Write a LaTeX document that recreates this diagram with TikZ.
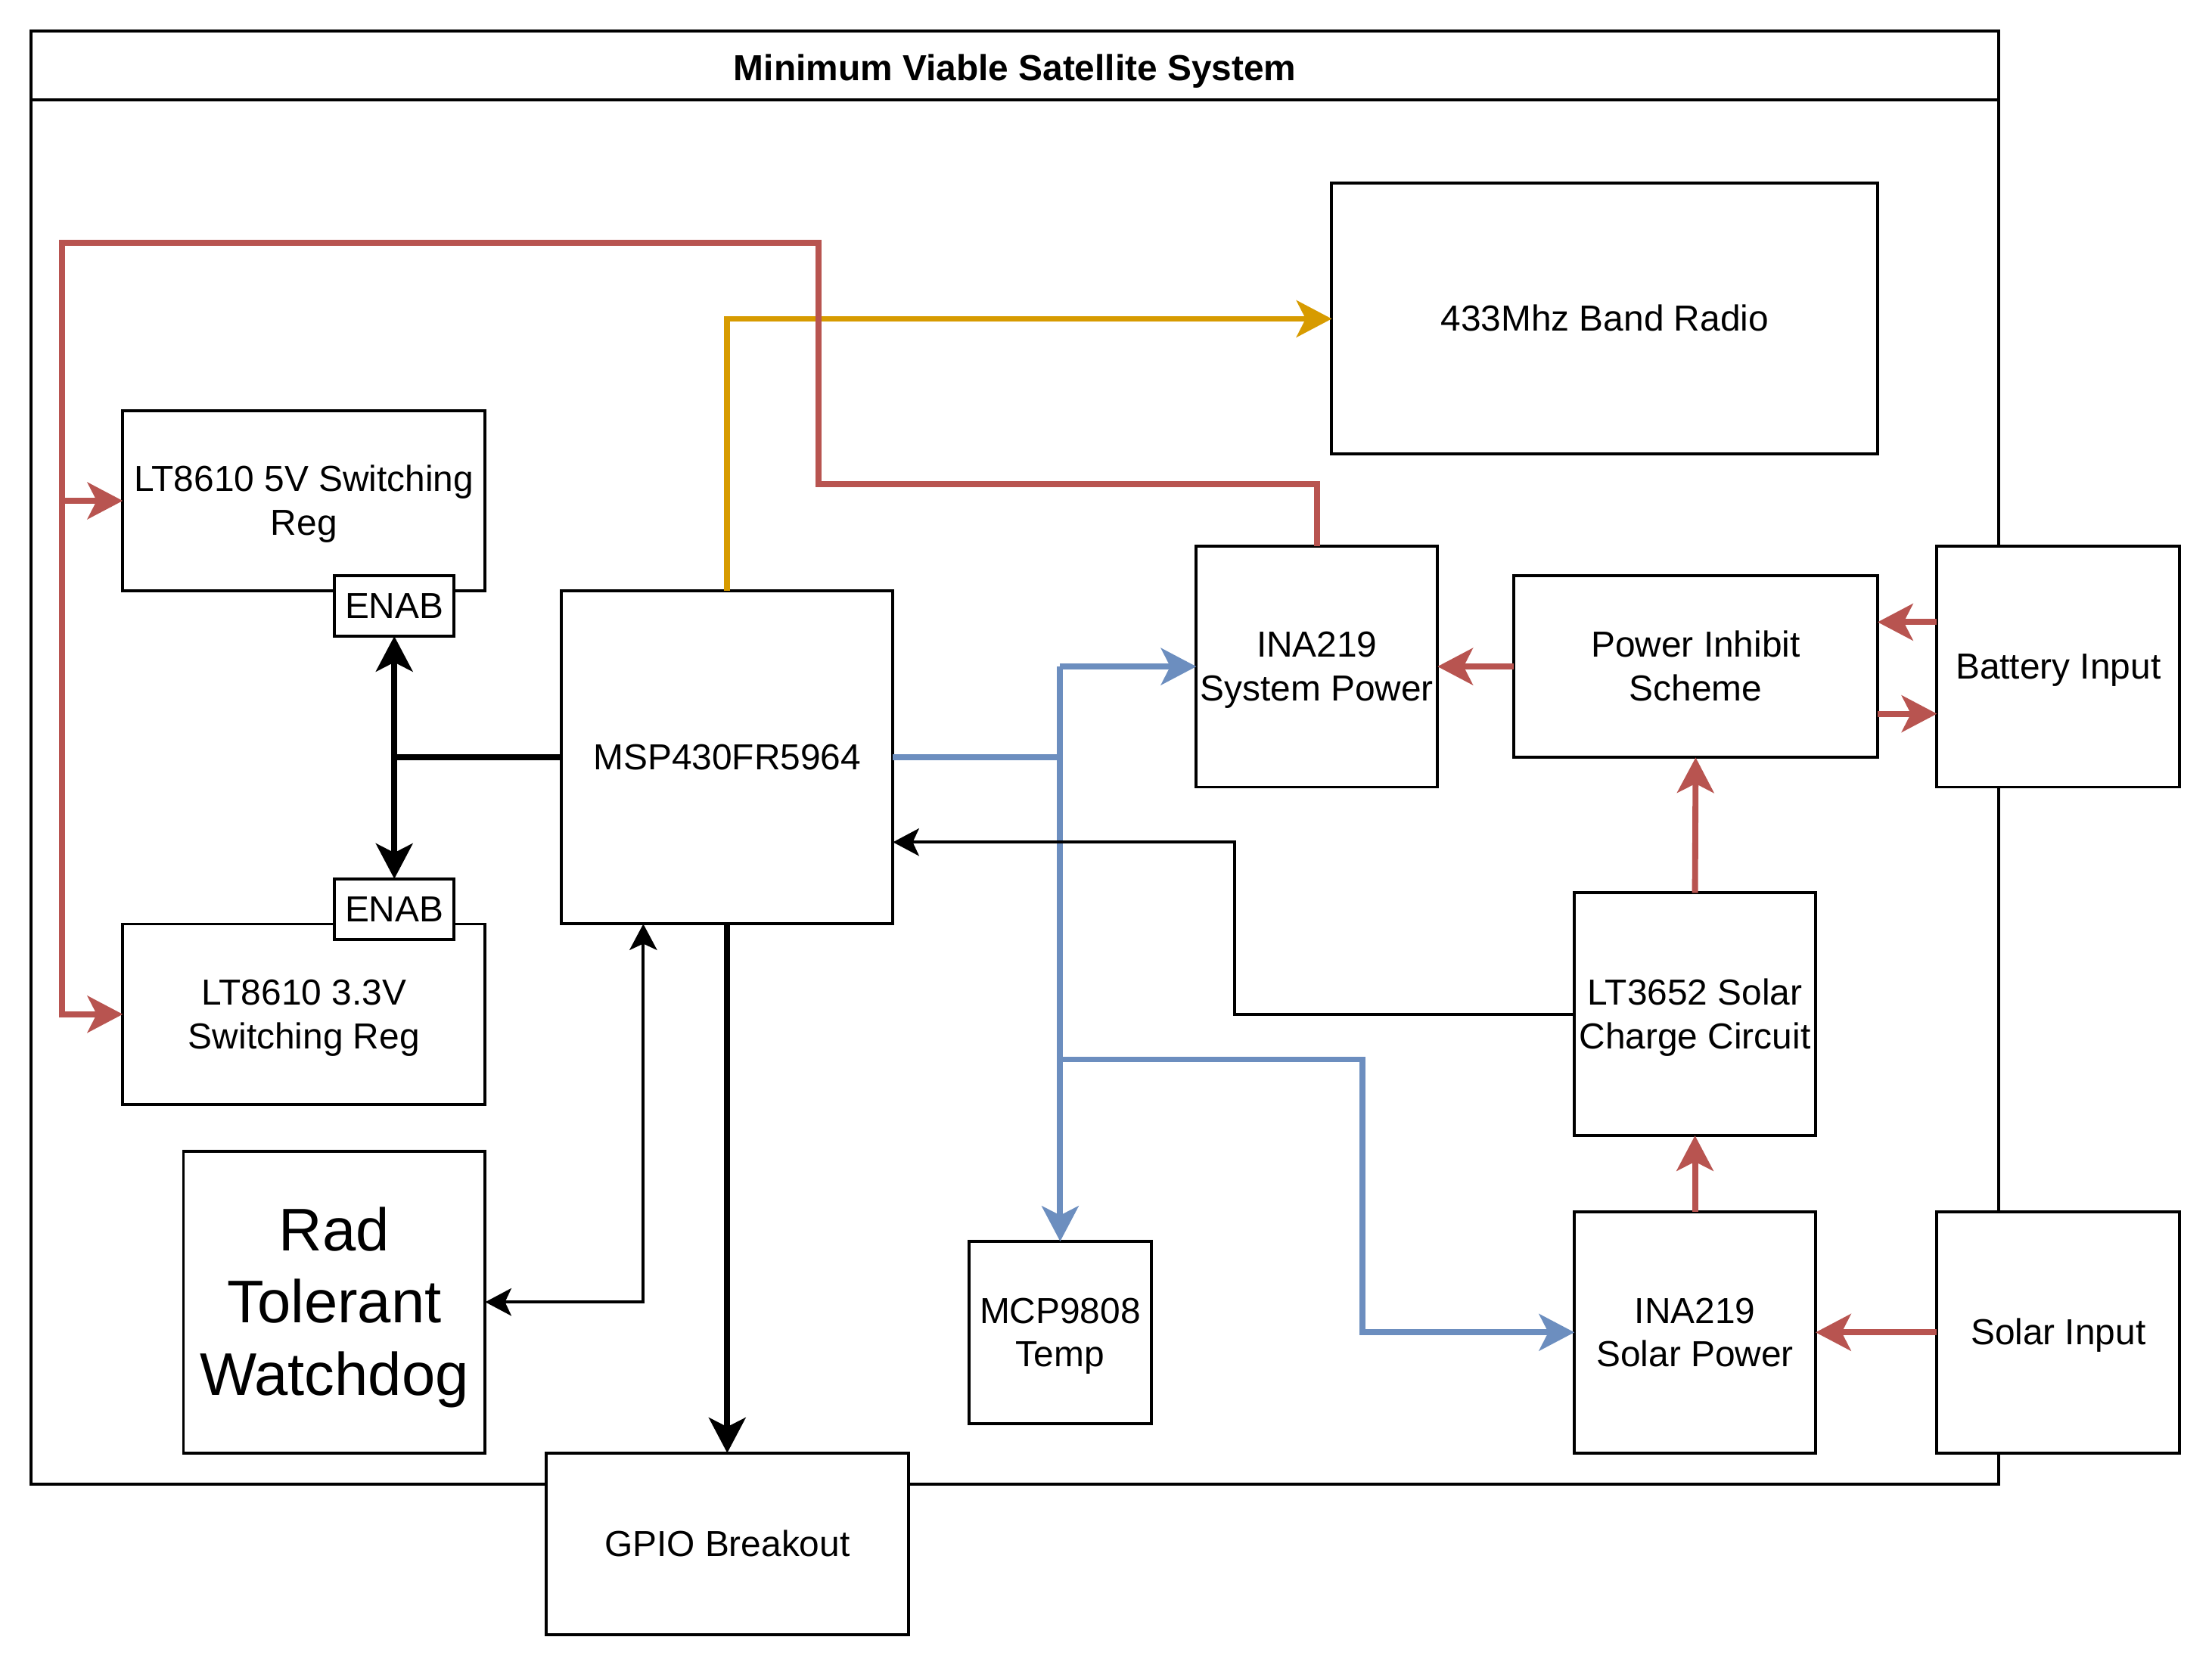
\documentclass[tikz,border=0pt]{standalone}
\usepackage{fontspec}
\setmainfont{Liberation Sans}
\usetikzlibrary{arrows.meta,calc}

\definecolor{pwrred}{HTML}{B85450}
\definecolor{busblue}{HTML}{6C8EBF}
\definecolor{rforange}{HTML}{D79B00}

\tikzset{
  pta/.tip = {Stealth[length=0.5cm, width=0.52cm, inset=0.13cm]},
  ptb/.tip = {Stealth[length=0.37cm, width=0.39cm, inset=0.09cm]},
  txt/.style = {align = center, inner sep = 0pt, outer sep = 0pt,
    font = \fontsize{14.6}{17.5}\selectfont,
    text height = 13.8pt, text depth = 3.7pt},
  duesl/.style = {text height = 31.3pt},
  blk/.style = {txt, draw, line width = 1.2pt, fill = white},
  linpwr/.style = {draw = pwrred, line width = 2.4pt, -pta},
  lini2c/.style = {draw = busblue, line width = 2.4pt, -pta},
  linrf/.style = {draw = rforange, line width = 2.4pt, -pta},
  linctl/.style = {line width = 2.4pt, -pta},
  linsig/.style = {line width = 1.2pt, -ptb}
}

\begin{document}
\begin{tikzpicture}[x=0.02cm, y=-0.02cm]
\useasboundingbox (0,0) rectangle (1568,1182);
% marc del sistema
\draw[line width = 1.2pt] (22,22) rectangle (1417,1052);
\draw[line width = 1.2pt] (22,71) -- (1417,71);
\node[txt, font = \bfseries\fontsize{14.6}{17.5}\selectfont] (titol) at (719.5,48) {Minimum Viable Satellite System};

% blocs
\node[blk, minimum width = 7.74cm, minimum height = 3.84cm] (radio) at (1137.5,226) {433Mhz Band Radio};
\node[blk, duesl, minimum width = 5.14cm, minimum height = 2.56cm] (reg5) at (215.5,355) {LT8610 5V Switching\\Reg};
\node[blk, minimum width = 1.70cm, minimum height = 0.86cm] (enab5) at (279.5,429.5) {ENAB};
\node[blk, duesl, minimum width = 5.14cm, minimum height = 2.56cm] (reg33) at (215.5,719) {LT8610 3.3V\\Switching Reg};
\node[blk, minimum width = 1.70cm, minimum height = 0.86cm] (enab33) at (279.5,644.5) {ENAB};
\node[blk, minimum width = 4.70cm, minimum height = 4.72cm] (msp) at (515.5,537) {MSP430FR5964};
\node[blk, duesl, minimum width = 3.42cm, minimum height = 3.42cm] (inasys) at (933.5,472.5) {INA219\\System Power};
\node[blk, duesl, minimum width = 5.16cm, minimum height = 2.58cm] (inhib) at (1202,472.5) {Power Inhibit\\Scheme};
\node[blk, minimum width = 3.44cm, minimum height = 3.42cm] (bat) at (1459,472.5) {Battery Input};
\node[blk, duesl, minimum width = 3.42cm, minimum height = 3.44cm] (charger) at (1201.5,719) {LT3652 Solar\\Charge Circuit};
\node[blk, duesl, minimum width = 2.58cm, minimum height = 2.58cm] (temp) at (751.5,944.5) {MCP9808\\Temp};
\node[blk, duesl, minimum width = 3.42cm, minimum height = 3.42cm] (inasol) at (1201.5,944.5) {INA219\\Solar Power};
\node[blk, minimum width = 3.44cm, minimum height = 3.42cm] (solar) at (1459,944.5) {Solar Input};
\node[blk, minimum width = 4.28cm, minimum height = 4.28cm, font = \fontsize{24.3}{29.2}\selectfont,
  text height = 81.4pt, text depth = 6.2pt] (wdog) at (237,923) {Rad\\Tolerant\\Watchdog};
\node[blk, minimum width = 5.14cm, minimum height = 2.58cm] (gpio) at (515.5,1094.5) {GPIO Breakout};

% radio
\draw[linrf] (msp.north) |- (radio.west);

% alimentacio
\coordinate (rbus) at (44,172);
\draw[linpwr] (inasys.north) |- (580,343) |- (rbus) |- (reg33.west);
\draw[linpwr] (rbus |- reg5.west) -- (reg5.west);
\draw[linpwr] ($(bat.west)+(0,-31.5)$) -- ($(inhib.east)+(0,-31.5)$);
\draw[linpwr] ($(inhib.east)+(0,33.5)$) -- ($(bat.west)+(0,33.5)$);
\draw[linpwr] (inhib.west) -- (inasys.east);
\draw[linpwr] (charger.north) -- (inhib.south);
\draw[linpwr] (solar.west) -- (inasol.east);
\draw[linpwr] (inasol.north) -- (charger.south);

% bus i2c
\coordinate (bbus) at (temp.north |- msp.east);
\coordinate (bbus2) at (751.5,751);
\draw[lini2c, -] (msp.east) -- (bbus);
\draw[lini2c] (bbus |- inasys.west) -- (temp.north);
\draw[lini2c] (bbus |- inasys.west) -- (inasys.west);
\draw[lini2c] (bbus2) -| (966,944.5) -- (inasol.west);

% control
\draw[linctl, -] (msp.west) -- (msp.west -| enab5.south);
\draw[linctl, pta-pta] (enab5.south) -- (enab33.north);
\draw[linctl] (msp.south) -- (gpio.north);
\draw[linsig] (charger.west) -| (875,597) -- ($(msp.east)+(0,60)$);
\draw[linsig, ptb-ptb] ($(msp.south)+(-59.5,0)$) |- (wdog.east);
\end{tikzpicture}
\end{document}
